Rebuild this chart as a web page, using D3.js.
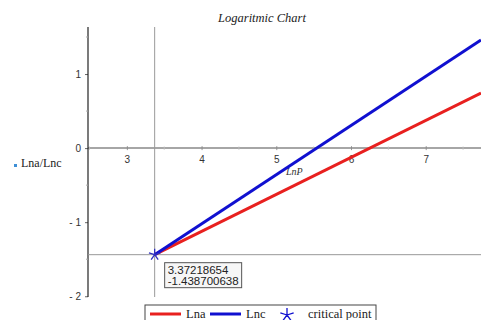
<!DOCTYPE html>
<html>
<head>
<meta charset="utf-8">
<script src="https://cdn.jsdelivr.net/npm/d3@7"></script>
<style>
  html, body { margin: 0; padding: 0; background: #fff; }
  svg { display: block; }
</style>
</head>
<body>
<svg id="chart" width="481" height="320"></svg>
<script>
// Values along the two log curves and the point where they meet
const lnP = [3.37218654, 7.74];
const lna = [-1.438700638, 0.743];
const lnc = [-1.438700638, 1.46];
const critical = [3.37218654, -1.438700638];
const xTicks = [3, 4, 5, 6, 7];
const yTicks = [-2, -1, 0, 1];
const xMinor = [2.5, 3.5, 4.5, 5.5, 6.5, 7.5];
const yMinor = [-1.5, -0.5, 0.5, 1.5];
const legendItems = ["Lna", "Lnc", "critical point"];

const svg = d3.select("#chart");
const x = d3.scaleLinear().domain([2.48, 7.74]).range([88, 481]);
const y = d3.scaleLinear().domain([-2.01, 1.635]).range([297, 27]);
const serif = "'Liberation Serif', 'Times New Roman', serif";
const sans = "'Liberation Sans', Arial, sans-serif";

svg.append("defs").append("clipPath").attr("id", "plot")
  .append("rect").attr("x", 88).attr("y", 27).attr("width", 393).attr("height", 270);

// Title
svg.append("text").attr("x", 262).attr("y", 22).attr("text-anchor", "middle")
  .attr("font-family", serif).attr("font-style", "italic").attr("font-size", 12.5)
  .attr("fill", "#222").text("Logaritmic Chart");

// X axis through y = 0
const gx = svg.append("g").attr("transform", `translate(0,${y(0)})`)
  .call(d3.axisBottom(x).tickValues(xTicks).tickSize(3).tickPadding(5).tickFormat(d3.format("d")));
gx.select(".domain").remove();
gx.selectAll(".tick line").attr("stroke", "#999").attr("y1", -2).attr("y2", 2);
gx.selectAll(".tick text").attr("font-family", sans).attr("font-size", 10).attr("fill", "#333");
svg.append("line").attr("x1", 88).attr("x2", 481).attr("y1", y(0)).attr("y2", y(0))
  .attr("stroke", "#888").attr("stroke-width", 1.5);
svg.selectAll(".xminor").data(xMinor).join("line")
  .attr("x1", d => x(d)).attr("x2", d => x(d)).attr("y1", y(0) - 1.5).attr("y2", y(0) + 1.5)
  .attr("stroke", "#bbb");

// Y axis
const gy = svg.append("g").attr("transform", `translate(${x.range()[0]},0)`)
  .call(d3.axisLeft(y).tickValues(yTicks).tickSize(3).tickPadding(4).tickFormat(d => d < 0 ? "- " + Math.abs(d) : d));
gy.select(".domain").remove();
gy.selectAll(".tick line").attr("stroke", "#666");
gy.selectAll(".tick text").attr("font-family", sans).attr("font-size", 10).attr("fill", "#333");
svg.append("line").attr("x1", 88).attr("x2", 88).attr("y1", 27).attr("y2", 297)
  .attr("stroke", "#222").attr("stroke-width", 1.2);
svg.selectAll(".yminor").data(yMinor).join("line")
  .attr("x1", 86).attr("x2", 88).attr("y1", d => y(d)).attr("y2", d => y(d))
  .attr("stroke", "#aaa");

// Axis titles
svg.append("rect").attr("x", 14).attr("y", 164).attr("width", 3).attr("height", 3).attr("fill", "#3d8fd6");
svg.append("text").attr("x", 21).attr("y", 167).attr("font-family", serif).attr("font-size", 12)
  .attr("fill", "#222").text("Lna/Lnc");
svg.append("text").attr("x", 286).attr("y", 175).attr("font-family", serif).attr("font-style", "italic")
  .attr("font-size", 10).attr("fill", "#333").text("LnP");

// Crosshair through the critical point
svg.append("line").attr("x1", x(critical[0])).attr("x2", x(critical[0])).attr("y1", 27).attr("y2", 297)
  .attr("stroke", "#999").attr("stroke-width", 1);
svg.append("line").attr("x1", 88).attr("x2", 481).attr("y1", y(critical[1])).attr("y2", y(critical[1]))
  .attr("stroke", "#999").attr("stroke-width", 1);

// Curves
const line = d3.line().x(d => x(d[0])).y(d => y(d[1]));
const plot = svg.append("g").attr("clip-path", "url(#plot)");
plot.append("path").datum(d3.zip(lnP, lna)).attr("d", line)
  .attr("fill", "none").attr("stroke", "#e8201f").attr("stroke-width", 3);
plot.append("path").datum(d3.zip(lnP, lnc)).attr("d", line)
  .attr("fill", "none").attr("stroke", "#1010d0").attr("stroke-width", 3);

// Five-armed star marker
function starPath(r) {
  let p = "";
  for (let i = 0; i < 5; i++) {
    const a = -Math.PI / 2 + i * 2 * Math.PI / 5;
    p += `M0,0L${(r * Math.cos(a)).toFixed(2)},${(r * Math.sin(a)).toFixed(2)}`;
  }
  return p;
}
svg.append("path").attr("d", starPath(6))
  .attr("transform", `translate(${x(critical[0])},${y(critical[1])})`)
  .attr("fill", "none").attr("stroke", "#3030c0").attr("stroke-width", 1.3);

// Value tooltip
const tip = svg.append("g").attr("transform", `translate(${x(critical[0]) + 10},${y(critical[1]) + 8})`);
tip.append("rect").attr("x", 0).attr("y", 0).attr("width", 77).attr("height", 25)
  .attr("fill", "#f6f6f6").attr("stroke", "#555");
tip.append("text").attr("x", 3).attr("y", 11).attr("font-family", sans).attr("font-size", 11.5)
  .attr("fill", "#222").text(critical[0].toFixed(8));
tip.append("text").attr("x", 3).attr("y", 22).attr("font-family", sans).attr("font-size", 11.5)
  .attr("fill", "#222").text(critical[1].toFixed(9));

// Legend
const lg = svg.append("g").attr("transform", "translate(145,305)");
lg.append("rect").attr("x", 0).attr("y", 0).attr("width", 231).attr("height", 20)
  .attr("fill", "#fff").attr("stroke", "#444");
lg.append("line").attr("x1", 5).attr("x2", 36).attr("y1", 9).attr("y2", 9).attr("stroke", "#e8201f").attr("stroke-width", 3);
lg.append("text").attr("x", 41).attr("y", 13).attr("font-family", serif).attr("font-size", 12.5).attr("fill", "#222").text(legendItems[0]);
lg.append("line").attr("x1", 65).attr("x2", 96).attr("y1", 9).attr("y2", 9).attr("stroke", "#1010d0").attr("stroke-width", 3);
lg.append("text").attr("x", 101).attr("y", 13).attr("font-family", serif).attr("font-size", 12.5).attr("fill", "#222").text(legendItems[1]);
lg.append("path").attr("d", starPath(7)).attr("transform", "translate(142,10)")
  .attr("fill", "none").attr("stroke", "#1010d0").attr("stroke-width", 1.3);
lg.append("text").attr("x", 163).attr("y", 13).attr("font-family", serif).attr("font-size", 12.5).attr("fill", "#222").text(legendItems[2]);
</script>
</body>
</html>
